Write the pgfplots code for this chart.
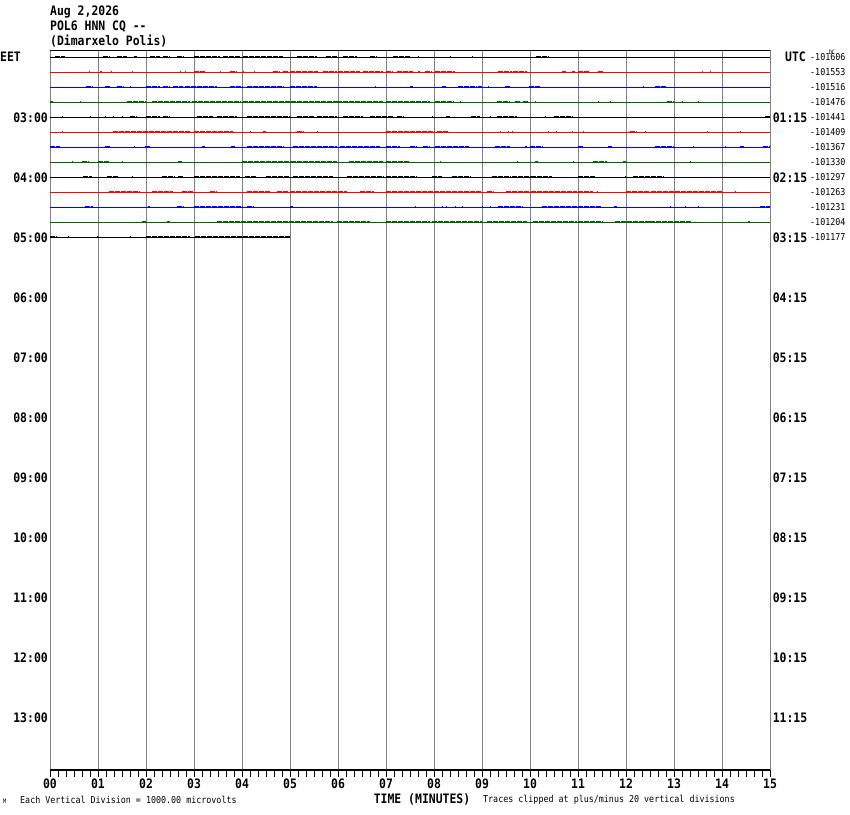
\documentclass[border=0pt]{standalone}
\usepackage{pgfplots}
\pgfplotsset{compat=1.18}
\usepackage{pgfplotstable}
\usepackage{fontspec}
\newfontfamily\monofam[FakeStretch=0.88]{DejaVu Sans Mono}
\newcommand\hf{\monofam\bfseries\fontsize{13}{14}\selectfont}
\newcommand\sm{\monofam\fontsize{9.5}{10}\selectfont}
\newcommand\tn{\monofam\fontsize{6}{6}\selectfont}
\definecolor{tgreen}{RGB}{0,100,0}
\definecolor{tgray}{RGB}{128,128,128}
\definecolor{tred}{RGB}{255,0,0}
\definecolor{tblue}{RGB}{0,0,255}

% bursts: trace index t, start a, end b (minutes)
\pgfplotstableread{
t a b
0 0.10 0.31
0 1.11 1.25
0 1.39 1.60
0 1.74 1.81
0 2.08 2.29
0 2.36 2.50
0 2.64 2.78
0 2.99 3.54
0 3.61 3.96
0 4.03 4.86
0 5.14 5.56
0 5.76 5.97
0 6.11 6.39
0 6.67 6.81
0 7.15 7.50
0 7.67 7.69
0 8.33 8.35
0 8.80 8.82
0 10.12 10.38
4 0.24 0.26
4 0.83 0.85
4 1.14 1.16
4 1.32 1.34
4 1.49 1.51
4 1.67 1.81
4 2.01 2.29
4 2.36 2.50
4 3.06 3.40
4 3.47 3.89
4 4.10 5.00
4 5.14 5.49
4 5.56 5.97
4 6.11 6.53
4 6.67 7.15
4 7.22 7.36
4 7.95 7.97
4 8.26 8.33
4 8.78 8.96
4 9.17 9.19
4 9.31 9.72
4 10.31 10.33
4 10.49 10.90
4 14.90 15.00
8 0.69 0.87
8 1.18 1.42
8 1.70 1.72
8 2.33 2.60
8 2.67 2.78
8 2.99 3.96
8 4.06 4.31
8 4.51 5.00
8 5.07 5.90
8 6.18 6.94
8 7.01 7.64
8 7.95 8.16
8 8.37 8.78
8 9.20 9.58
8 9.62 10.00
8 10.03 10.45
8 11.01 11.35
8 11.98 12.00
8 12.15 12.78
12 0.00 0.14
12 0.38 0.40
12 0.97 0.99
12 1.67 1.69
12 2.01 2.92
12 3.02 5.00
}\blacktab

\pgfplotstableread{
t a b
1 0.82 0.84
1 1.04 1.08
1 1.28 1.30
1 1.70 1.72
1 2.71 2.73
1 2.81 2.83
1 2.99 3.23
1 3.54 3.56
1 3.75 3.89
1 4.03 4.05
1 4.24 4.26
1 4.65 4.79
1 4.86 4.97
1 5.01 5.59
1 5.69 5.97
1 6.01 6.46
1 6.53 6.94
1 7.01 7.15
1 7.22 7.57
1 7.67 7.71
1 7.81 7.95
1 8.02 8.44
1 9.34 9.62
1 9.65 9.93
1 10.66 10.76
1 10.87 10.94
1 11.01 11.25
1 11.42 11.53
1 13.58 13.60
1 13.75 13.77
5 0.24 0.26
5 1.32 2.92
5 2.99 3.82
5 4.17 4.19
5 4.44 4.51
5 5.14 5.28
5 5.56 5.58
5 7.01 8.02
5 8.06 8.30
5 9.37 9.39
5 9.55 9.57
5 9.62 9.64
5 10.38 10.40
5 10.55 10.57
5 10.87 10.89
5 11.11 11.13
5 12.08 12.22
5 12.40 12.42
5 13.68 13.70
5 14.38 14.40
9 1.22 1.88
9 2.12 2.57
9 2.74 2.99
9 3.33 3.47
9 4.10 4.58
9 4.72 4.97
9 5.00 5.97
9 6.01 6.18
9 6.46 6.74
9 7.01 8.99
9 9.10 9.24
9 9.51 9.97
9 10.03 10.97
9 11.01 11.32
9 11.39 11.41
9 12.01 12.50
9 12.53 13.99
9 14.27 14.29
}\redtab

\pgfplotstableread{
t a b
2 0.76 0.90
2 1.15 1.25
2 1.39 1.53
2 1.67 1.69
2 2.01 2.29
2 2.36 2.50
2 2.57 2.78
2 2.81 3.47
2 3.75 4.03
2 4.10 4.86
2 5.00 5.56
2 6.77 6.79
2 7.50 7.57
2 8.16 8.26
2 8.51 8.89
2 8.92 8.99
2 9.13 9.15
2 9.48 9.58
2 9.97 10.21
2 12.36 12.38
2 12.60 12.85
6 0.00 0.21
6 1.15 1.25
6 1.74 1.77
6 1.98 2.08
6 3.16 3.23
6 3.78 3.85
6 4.10 4.86
6 5.07 5.97
6 6.04 6.88
6 7.01 7.29
6 7.50 7.64
6 7.78 7.92
6 8.02 8.72
6 9.27 9.58
6 9.90 9.93
6 10.00 10.28
6 11.01 11.11
6 11.63 11.70
6 12.60 12.99
6 13.40 13.42
6 14.06 14.08
6 14.38 14.45
6 14.86 15.00
10 0.73 0.90
10 2.05 2.08
10 2.64 2.78
10 2.99 4.03
10 4.10 4.24
10 5.00 5.07
10 7.60 7.62
10 8.16 8.18
10 8.26 8.28
10 8.44 8.46
10 8.58 8.60
10 8.99 9.01
10 9.17 9.19
10 9.34 9.86
10 10.24 10.97
10 11.01 11.49
10 11.74 11.81
10 12.92 12.94
10 13.23 13.25
10 13.51 13.53
10 14.79 15.00
}\bluetab

\pgfplotstableread{
t a b
3 0.00 0.07
3 0.62 0.64
3 1.60 2.01
3 2.12 2.92
3 2.95 3.96
3 4.03 5.97
3 5.97 6.94
3 7.01 7.92
3 8.02 8.40
3 8.54 8.56
3 9.31 9.58
3 9.69 9.79
3 9.86 9.97
3 10.10 10.12
3 11.42 11.44
3 11.67 11.69
3 12.85 12.99
3 13.16 13.18
3 13.51 13.53
7 0.45 0.47
7 0.66 0.80
7 1.00 1.25
7 1.49 1.51
7 2.67 2.74
7 3.99 5.00
7 5.03 5.97
7 6.22 6.94
7 7.01 7.50
7 8.13 8.15
7 9.72 9.76
7 10.10 10.17
7 10.90 10.92
7 11.32 11.60
7 11.94 12.01
7 13.33 13.35
11 1.91 2.01
11 2.43 2.50
11 3.47 5.90
11 5.97 6.67
11 7.01 7.92
11 7.95 8.99
11 9.10 9.93
11 10.07 10.97
11 11.01 11.53
11 11.77 12.53
11 12.50 13.37
11 14.55 14.58
}\greentab

\begin{document}
\begin{tikzpicture}
\useasboundingbox (-50pt,-44pt) rectangle (800pt,770pt);
\begin{axis}[
  at={(0pt,0pt)}, anchor=south west,
  scale only axis, width=720pt, height=720pt,
  xmin=0, xmax=15, ymin=50, ymax=770, y dir=reverse,
  clip=false,
  axis line style={draw=none},
  xtick={0,...,15},
  xticklabels={00,01,02,03,04,05,06,07,08,09,10,11,12,13,14,15},
  minor x tick num=5,
  xtick pos=left,
  tick align=outside,
  major tick length=7pt, minor tick length=7pt,
  every tick/.style={black, line width=1pt},
  xmajorgrids,
  major grid style={tgray, line width=1pt},
  xticklabel style={font=\hf, inner sep=1pt, yshift=-1pt},
  ytick={117.5,177.5,237.5,297.5,357.5,417.5,477.5,537.5,597.5,657.5,717.5},
  yticklabels={03:00,04:00,05:00,06:00,07:00,08:00,09:00,10:00,11:00,12:00,13:00},
  ytick pos=left,
  ytick style={draw=none},
  yticklabel style={font=\hf, anchor=east, inner sep=0pt, xshift=5pt},
]
% frame lines
\addplot[black, line width=1pt, mark=none] coordinates {(0,50) (15,50)};
\addplot[black, line width=1.2pt, mark=none] coordinates {(0,770) (15,770)};
% baselines
\addplot[black, line width=1.1pt, mark=none] coordinates {(0,57.5) (15,57.5)};
\addplot[tred, line width=1.1pt, mark=none] coordinates {(0,72.5) (15,72.5)};
\addplot[tblue, line width=1.1pt, mark=none] coordinates {(0,87.5) (15,87.5)};
\addplot[tgreen, line width=1.1pt, mark=none] coordinates {(0,102.5) (15,102.5)};
\addplot[black, line width=1.1pt, mark=none] coordinates {(0,117.5) (15,117.5)};
\addplot[tred, line width=1.1pt, mark=none] coordinates {(0,132.5) (15,132.5)};
\addplot[tblue, line width=1.1pt, mark=none] coordinates {(0,147.5) (15,147.5)};
\addplot[tgreen, line width=1.1pt, mark=none] coordinates {(0,162.5) (15,162.5)};
\addplot[black, line width=1.1pt, mark=none] coordinates {(0,177.5) (15,177.5)};
\addplot[tred, line width=1.1pt, mark=none] coordinates {(0,192.5) (15,192.5)};
\addplot[tblue, line width=1.1pt, mark=none] coordinates {(0,207.5) (15,207.5)};
\addplot[tgreen, line width=1.1pt, mark=none] coordinates {(0,222.5) (15,222.5)};
\addplot[black, line width=1.1pt, mark=none] coordinates {(0,237.5) (5,237.5)};
% bursts of noise
\addplot[black, line width=1.4pt, mark=none, dash pattern=on 5pt off 1pt,
  quiver={u=\thisrow{b}-\thisrow{a}, v=0}]
  table[x=a, y expr={57.5+15*\thisrow{t}-1.3}] {\blacktab};
\addplot[tred, line width=1.4pt, mark=none, dash pattern=on 5pt off 1pt,
  quiver={u=\thisrow{b}-\thisrow{a}, v=0}]
  table[x=a, y expr={57.5+15*\thisrow{t}-1.3}] {\redtab};
\addplot[tblue, line width=1.4pt, mark=none, dash pattern=on 5pt off 1pt,
  quiver={u=\thisrow{b}-\thisrow{a}, v=0}]
  table[x=a, y expr={57.5+15*\thisrow{t}-1.3}] {\bluetab};
\addplot[tgreen, line width=1.4pt, mark=none, dash pattern=on 5pt off 1pt,
  quiver={u=\thisrow{b}-\thisrow{a}, v=0}]
  table[x=a, y expr={57.5+15*\thisrow{t}-1.3}] {\greentab};
% header
\node[anchor=west, font=\hf, inner sep=0pt] at (axis cs:0,12) {Aug 2,2026};
\node[anchor=west, font=\hf, inner sep=0pt] at (axis cs:0,27) {POL6 HNN CQ --};
\node[anchor=west, font=\hf, inner sep=0pt] at (axis cs:0,41) {(Dimarxelo Polis)};
\node[anchor=west, font=\hf, inner sep=0pt] at (axis cs:-1.0417,56.5) {EET};
% right side labels
\node[anchor=east, font=\hf, inner sep=0pt] at (axis cs:15.75,56.5) {UTC};
\node[anchor=east, font=\hf, inner sep=0pt] at (axis cs:15.78,117.5) {01:15};
\node[anchor=east, font=\hf, inner sep=0pt] at (axis cs:15.78,177.5) {02:15};
\node[anchor=east, font=\hf, inner sep=0pt] at (axis cs:15.78,237.5) {03:15};
\node[anchor=east, font=\hf, inner sep=0pt] at (axis cs:15.78,297.5) {04:15};
\node[anchor=east, font=\hf, inner sep=0pt] at (axis cs:15.78,357.5) {05:15};
\node[anchor=east, font=\hf, inner sep=0pt] at (axis cs:15.78,417.5) {06:15};
\node[anchor=east, font=\hf, inner sep=0pt] at (axis cs:15.78,477.5) {07:15};
\node[anchor=east, font=\hf, inner sep=0pt] at (axis cs:15.78,537.5) {08:15};
\node[anchor=east, font=\hf, inner sep=0pt] at (axis cs:15.78,597.5) {09:15};
\node[anchor=east, font=\hf, inner sep=0pt] at (axis cs:15.78,657.5) {10:15};
\node[anchor=east, font=\hf, inner sep=0pt] at (axis cs:15.78,717.5) {11:15};
\node[font=\tn, inner sep=0pt] at (axis cs:16.29,52.5) {DC};
\node[anchor=west, font=\sm, inner sep=0pt] at (axis cs:15.833,57.5) {-101606};
\node[anchor=west, font=\sm, inner sep=0pt] at (axis cs:15.833,72.5) {-101553};
\node[anchor=west, font=\sm, inner sep=0pt] at (axis cs:15.833,87.5) {-101516};
\node[anchor=west, font=\sm, inner sep=0pt] at (axis cs:15.833,102.5) {-101476};
\node[anchor=west, font=\sm, inner sep=0pt] at (axis cs:15.833,117.5) {-101441};
\node[anchor=west, font=\sm, inner sep=0pt] at (axis cs:15.833,132.5) {-101409};
\node[anchor=west, font=\sm, inner sep=0pt] at (axis cs:15.833,147.5) {-101367};
\node[anchor=west, font=\sm, inner sep=0pt] at (axis cs:15.833,162.5) {-101330};
\node[anchor=west, font=\sm, inner sep=0pt] at (axis cs:15.833,177.5) {-101297};
\node[anchor=west, font=\sm, inner sep=0pt] at (axis cs:15.833,192.5) {-101263};
\node[anchor=west, font=\sm, inner sep=0pt] at (axis cs:15.833,207.5) {-101231};
\node[anchor=west, font=\sm, inner sep=0pt] at (axis cs:15.833,222.5) {-101204};
\node[anchor=west, font=\sm, inner sep=0pt] at (axis cs:15.833,237.5) {-101177};
% bottom texts
\node[font=\hf, inner sep=0pt] at (axis cs:7.75,799) {TIME (MINUTES)};
\node[anchor=west, font=\sm, inner sep=0pt] at (axis cs:-0.625,800) {Each Vertical Division = 1000.00 microvolts};
\node[anchor=west, font=\sm, inner sep=0pt] at (axis cs:9.02,800) {Traces clipped at plus/minus 20 vertical divisions};
\node[anchor=west, font=\tn, inner sep=0pt] at (axis cs:-0.98,801) {M};
\end{axis}
\end{tikzpicture}
\end{document}
